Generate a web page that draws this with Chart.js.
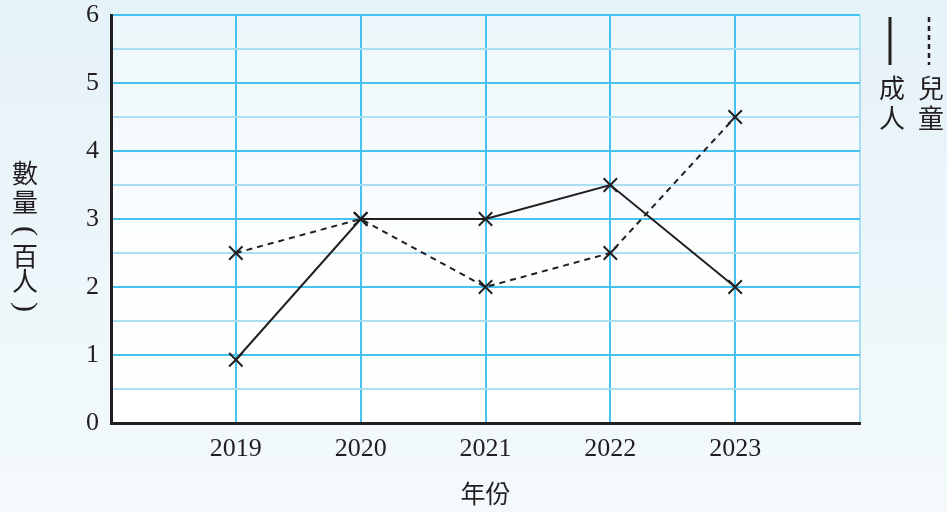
<!DOCTYPE html>
<html>
<head>
<meta charset="utf-8">
<style>
  html, body { margin: 0; padding: 0; background: #eaf5fa; }
  #wrap { width: 947px; height: 512px; position: relative; }
</style>
<script src="https://cdn.jsdelivr.net/npm/chart.js@4/dist/chart.umd.min.js"></script>
</head>
<body>
<div id="wrap"><canvas id="c" width="947" height="512"></canvas></div>
<script>
// ---- Data ----
const years = [2019, 2020, 2021, 2022, 2023];
const adults = [0.93, 3, 3, 3.5, 2];
const children = [2.5, 3, 2, 2.5, 4.5];
const yTickValues = [0, 1, 2, 3, 4, 5, 6];
const seriesNames = ['成人', '兒童'];
const yTitleChars = ['數', '量', '(', '百', '人', ')'];
const xTitle = '年份';

const INK = '#231f20';
const GRID_MAIN = '#45c3ee';
const GRID_HALF = '#a9def4';
const SERIF = '"Liberation Serif", "DejaVu Serif", serif';
const CJK = '"Noto Sans CJK TC", "Noto Sans CJK SC", sans-serif';

const decorPlugin = {
  id: 'decor',
  beforeDraw(chart) {
    const { ctx, chartArea: a, width, height } = chart;
    ctx.save();
    let g = ctx.createLinearGradient(0, 0, 0, height);
    g.addColorStop(0, '#e5f2f8');
    g.addColorStop(1, '#f4fafc');
    ctx.fillStyle = g;
    ctx.fillRect(0, 0, width, height);
    g = ctx.createLinearGradient(0, a.top, 0, a.bottom);
    g.addColorStop(0, '#ecf7fb');
    g.addColorStop(0.6, '#fdfeff');
    g.addColorStop(1, '#ffffff');
    ctx.fillStyle = g;
    ctx.fillRect(a.left, a.top, a.right - a.left, a.bottom - a.top);
    ctx.restore();
  },
  afterDraw(chart) {
    const { ctx, chartArea: a } = chart;
    ctx.save();
    ctx.fillStyle = INK;
    ctx.textAlign = 'center';
    ctx.textBaseline = 'middle';
    // y-axis title, vertical stacked; parentheses turned a quarter turn (vertical form)
    const yPos = [173, 202, 231, 256, 281, 307];
    yTitleChars.forEach((ch, i) => {
      if (ch === '(' || ch === ')') {
        ctx.save();
        ctx.setTransform(0, 1, -1, 0, 25, yPos[i]);
        ctx.font = '30px ' + SERIF;
        ctx.fillText(ch, 0, 0);
        ctx.restore();
      } else {
        ctx.font = '26px ' + CJK;
        ctx.fillText(ch, 25, yPos[i]);
      }
    });
    // x-axis title
    ctx.font = '25px ' + CJK;
    ctx.fillText(xTitle, (a.left + a.right) / 2, 493);
    // legend
    ctx.strokeStyle = INK;
    ctx.lineWidth = 3;
    ctx.beginPath(); ctx.moveTo(890, 17); ctx.lineTo(890, 65); ctx.stroke();
    ctx.setLineDash([5, 4]);
    ctx.lineWidth = 2.5;
    ctx.beginPath(); ctx.moveTo(929, 17); ctx.lineTo(929, 65); ctx.stroke();
    ctx.setLineDash([]);
    ctx.font = '26px ' + CJK;
    const legX = [892, 931];
    seriesNames.forEach((name, k) => {
      [...name].forEach((ch, i) => ctx.fillText(ch, legX[k], 88 + i * 30));
    });
    ctx.restore();
  }
};

const toPts = arr => arr.map((v, i) => ({ x: years[i], y: v }));

const lineDs = (label, arr, dash) => ({
  label,
  data: toPts(arr),
  borderColor: INK,
  borderWidth: 2,
  borderDash: dash,
  pointStyle: 'crossRot',
  pointRadius: 9.5,
  pointBorderWidth: 2,
  pointBorderColor: INK,
  tension: 0
});

new Chart(document.getElementById('c'), {
  type: 'line',
  data: {
    datasets: [
      lineDs(seriesNames[0], adults, []),
      lineDs(seriesNames[1], children, [6, 5])
    ]
  },
  options: {
    responsive: false,
    animation: false,
    devicePixelRatio: 1,
    layout: { padding: { left: 0, top: 15, right: 87, bottom: 0 } },
    plugins: { legend: { display: false }, tooltip: { enabled: false } },
    scales: {
      x: {
        type: 'linear',
        min: years[0] - 1,
        max: years[years.length - 1] + 1,
        afterFit(s) { s.height = 89; s.paddingLeft = 0; s.paddingRight = 0; },
        afterBuildTicks(s) {
          const t = [{ value: years[0] - 1 }];
          years.forEach(y => t.push({ value: y }));
          t.push({ value: years[years.length - 1] + 1 });
          s.ticks = t;
        },
        ticks: {
          color: INK,
          font: { family: SERIF, size: 26 },
          padding: 11,
          maxRotation: 0,
          autoSkip: false,
          callback: v => years.includes(v) ? String(v) : ''
        },
        grid: {
          drawTicks: false,
          lineWidth: 2,
          color: c => (c.tick && c.tick.value > years[years.length - 1]) ? GRID_HALF : GRID_MAIN
        },
        border: { display: true, color: INK, width: 3 }
      },
      y: {
        min: 0,
        max: 6,
        afterFit(s) { s.width = 111; s.paddingTop = 0; s.paddingBottom = 0; },
        afterBuildTicks(s) {
          const t = [];
          for (let v = yTickValues[0]; v <= yTickValues[yTickValues.length - 1]; v += 0.5) t.push({ value: v });
          s.ticks = t;
        },
        ticks: {
          color: INK,
          font: { family: SERIF, size: 26 },
          padding: 12,
          autoSkip: false,
          callback: v => yTickValues.includes(v) ? String(v) : ''
        },
        grid: {
          drawTicks: false,
          lineWidth: 2,
          color: c => (c.tick && Number.isInteger(c.tick.value)) ? GRID_MAIN : GRID_HALF
        },
        border: { display: true, color: INK, width: 3 }
      }
    }
  },
  plugins: [decorPlugin]
});
</script>
</body>
</html>
